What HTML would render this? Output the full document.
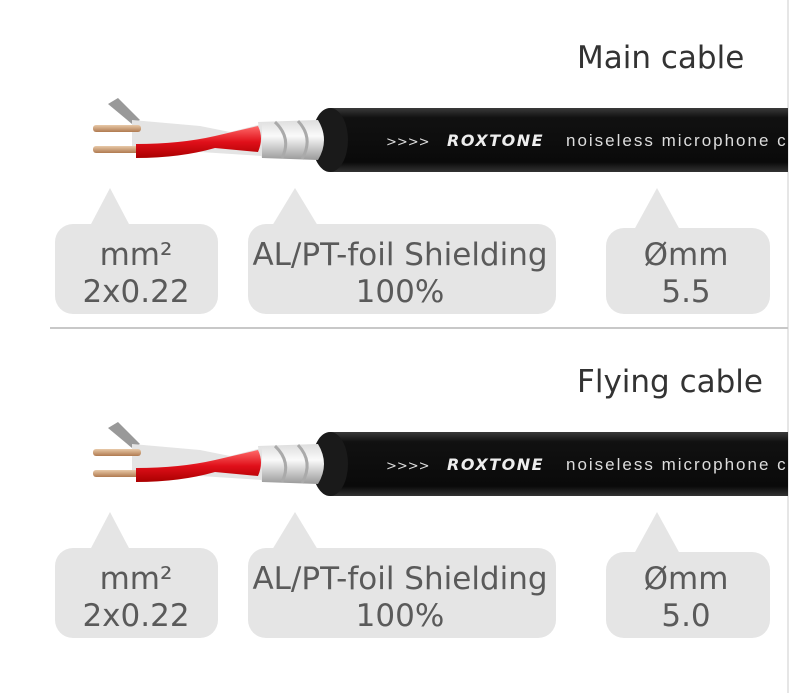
<!DOCTYPE html>
<html><head><meta charset="utf-8"><style>
html,body{margin:0;padding:0;background:#fff;width:811px;height:693px;overflow:hidden}
svg{display:block}
</style></head><body>
<svg width="811" height="693" viewBox="0 0 811 693" xmlns="http://www.w3.org/2000/svg" font-family="'DejaVu Sans','Liberation Sans',sans-serif">
<defs>
<linearGradient id="blk" x1="0" y1="0" x2="0" y2="1">
<stop offset="0" stop-color="#3a3a3a"/><stop offset="0.15" stop-color="#111"/><stop offset="0.85" stop-color="#0a0a0a"/><stop offset="1" stop-color="#333"/></linearGradient>
<linearGradient id="foil" x1="0" y1="0" x2="0" y2="1">
<stop offset="0" stop-color="#ddd"/><stop offset="0.4" stop-color="#fafafa"/><stop offset="1" stop-color="#9a9a9a"/></linearGradient>
<linearGradient id="red" x1="0" y1="0" x2="0" y2="1">
<stop offset="0" stop-color="#ff6a6a"/><stop offset="0.5" stop-color="#e0101a"/><stop offset="1" stop-color="#a00"/></linearGradient>
<linearGradient id="cu" x1="0" y1="0" x2="0" y2="1">
<stop offset="0" stop-color="#e8c9a8"/><stop offset="1" stop-color="#b07a50"/></linearGradient>
<g id="cable">
<rect x="330" y="0" width="458" height="64" fill="url(#blk)"/>
<ellipse cx="330" cy="32" rx="18" ry="32" fill="#1a1a1a"/>
<path d="M258 14 L318 12 Q330 32 318 52 L262 50 Z" fill="url(#foil)"/>
<path d="M275 14 Q292 30 282 50 M298 13 Q314 30 302 51" stroke="#aaa" stroke-width="3" fill="none"/>
<path d="M108 -4 L118 -10 L140 12 L132 16 Z" fill="#999"/>
<path d="M132 12 L200 18 L230 24 L262 16 L262 48 L200 44 L132 40 Z" fill="#e4e4e4"/>
<rect x="93" y="17" width="48" height="7" rx="3" fill="url(#cu)"/>
<rect x="93" y="38" width="48" height="7" rx="3" fill="url(#cu)"/>
<path d="M136 36 Q180 36 215 28 L258 18 Q264 30 258 44 L215 40 Q180 50 136 50 Z" fill="url(#red)"/>
<text x="386" y="38" fill="#ddd" font-size="13">&gt;&gt;&gt;&gt;</text>
<text x="447" y="38" fill="#eee" font-size="16" font-weight="bold" font-style="italic" letter-spacing="1.5">ROXTONE</text>
<text x="566" y="38" fill="#ddd" font-size="17" font-family="'Liberation Sans',sans-serif" letter-spacing="2">noiseless microphone c</text>
</g>
<g id="bub" fill="#e5e5e5">
<path d="M110 0 L130 38 L90 38 Z"/>
<rect x="55" y="36" width="163" height="90" rx="18"/>
<path d="M295 0 L318 38 L272 38 Z"/>
<rect x="248" y="36" width="308" height="90" rx="18"/>
<path d="M657 0 L680 42 L634 42 Z"/>
<rect x="606" y="40" width="164" height="86" rx="18"/>
</g>
</defs>
<rect x="788" y="0" width="23" height="693" fill="#fff"/>
<line x1="788" y1="0" x2="788" y2="693" stroke="#e6e6e6" stroke-width="2"/>
<line x1="50" y1="328" x2="788" y2="328" stroke="#c8c8c8" stroke-width="2"/>

<text x="577" y="68" font-size="31" fill="#333">Main cable</text>
<use href="#cable" y="108"/>
<use href="#bub" y="188"/>
<g font-size="31" fill="#5a5a5a" text-anchor="middle">
<text x="136" y="265">mm²</text><text x="136" y="302">2x0.22</text>
<text x="400" y="265">AL/PT-foil Shielding</text><text x="400" y="302">100%</text>
<text x="686" y="265">Ømm</text><text x="686" y="302">5.5</text>
</g>

<text x="577" y="392" font-size="31" fill="#333">Flying cable</text>
<use href="#cable" y="432"/>
<use href="#bub" y="512"/>
<g font-size="31" fill="#5a5a5a" text-anchor="middle">
<text x="136" y="589">mm²</text><text x="136" y="626">2x0.22</text>
<text x="400" y="589">AL/PT-foil Shielding</text><text x="400" y="626">100%</text>
<text x="686" y="589">Ømm</text><text x="686" y="626">5.0</text>
</g>
</svg>
</body></html>
